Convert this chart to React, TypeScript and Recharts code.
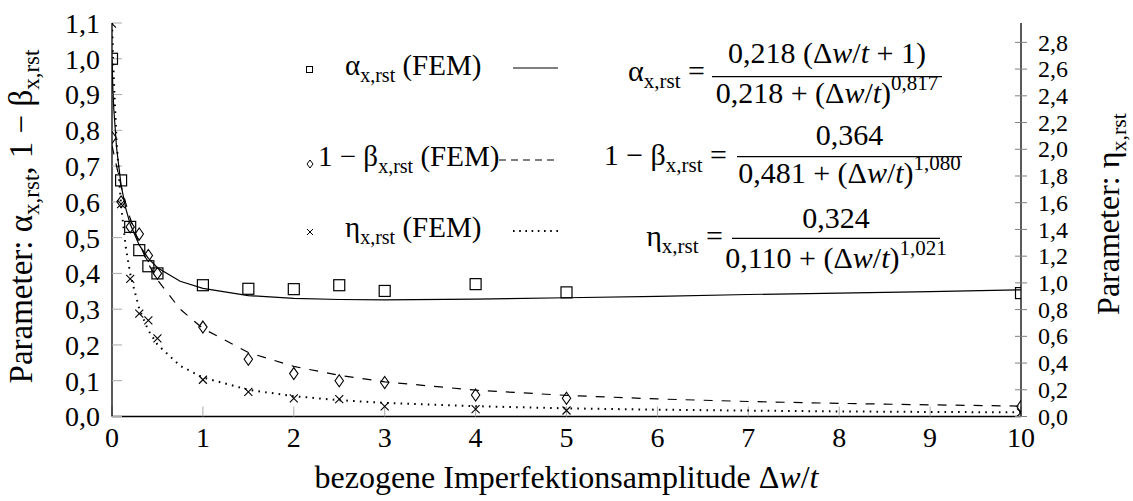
import React from 'react';
import { ComposedChart, Scatter, XAxis, YAxis, Customized } from 'recharts';

const FONT = "'Liberation Serif', 'DejaVu Serif', serif";

// axis ticks
const xTicks = [0, 1, 2, 3, 4, 5, 6, 7, 8, 9, 10];
const leftTicks = [0, 0.1, 0.2, 0.3, 0.4, 0.5, 0.6, 0.7, 0.8, 0.9, 1.0, 1.1];
const rightTicks = [0, 0.2, 0.4, 0.6, 0.8, 1.0, 1.2, 1.4, 1.6, 1.8, 2.0, 2.2, 2.4, 2.6, 2.8];

// FEM results
const femX = [0, 0.1, 0.2, 0.3, 0.4, 0.5, 1, 1.5, 2, 2.5, 3, 4, 5, 10];
const alphaFem = [1.0, 0.66, 0.53, 0.465, 0.42, 0.4, 0.367, 0.357, 0.356, 0.367, 0.351, 0.37, 0.347, 0.345];
const betaFem = [0.78, 0.6, 0.53, 0.51, 0.45, 0.4, 0.25, 0.16, 0.12, 0.1, 0.095, 0.06, 0.051, 0.028];
const etaFem = [2.94, 1.59, 1.03, 0.77, 0.72, 0.585, 0.275, 0.185, 0.135, 0.13, 0.075, 0.055, 0.045, 0.03];

// fitted curves
const curveX = [0, 0.01, 0.02, 0.05, 0.1, 0.15, 0.2, 0.3, 0.4, 0.5, 0.75, 1, 1.5, 2, 2.5, 3, 4, 5, 6, 7, 8, 9, 10];
const alphaFit = [1.0, 0.913, 0.859, 0.752, 0.647, 0.583, 0.538, 0.479, 0.442, 0.416, 0.378, 0.358, 0.338, 0.33, 0.327, 0.326, 0.328, 0.332, 0.336, 0.341, 0.345, 0.349, 0.354];
const betaFit = [0.757, 0.746, 0.734, 0.7, 0.645, 0.597, 0.554, 0.483, 0.427, 0.382, 0.3, 0.246, 0.179, 0.14, 0.115, 0.097, 0.0735, 0.059, 0.049, 0.042, 0.0367, 0.0325, 0.0291];
const etaFit = [2.945, 2.721, 2.523, 2.065, 1.578, 1.275, 1.068, 0.805, 0.645, 0.538, 0.379, 0.292, 0.2, 0.152, 0.122, 0.102, 0.077, 0.061, 0.051, 0.044, 0.038, 0.034, 0.031];

const toPts = (xs: number[], ys: number[]) => xs.map((x, i) => ({ x, y: ys[i] }));
const alphaPts = toPts(femX, alphaFem);
const betaPts = toPts(femX, betaFem);
const etaPts = toPts(femX, etaFem);
const alphaCurve = toPts(curveX, alphaFit);
const betaCurve = toPts(curveX, betaFit);
const etaCurve = toPts(curveX, etaFit);

const fmt1 = (v: number) => v.toFixed(1).replace('.', ',');

const SquareShape = (p: any) => (
  <rect x={p.cx - 5.5} y={p.cy - 5.5} width={11} height={11} fill="none" stroke="#000" strokeWidth={1.2} />
);
const DiamondShape = (p: any) => (
  <path d={`M${p.cx},${p.cy - 6}L${p.cx + 4.2},${p.cy}L${p.cx},${p.cy + 6}L${p.cx - 4.2},${p.cy}Z`} fill="none" stroke="#000" strokeWidth={1.1} />
);
const CrossShape = (p: any) => (
  <path d={`M${p.cx - 4},${p.cy - 4}L${p.cx + 4},${p.cy + 4}M${p.cx - 4},${p.cy + 4}L${p.cx + 4},${p.cy - 4}`} fill="none" stroke="#000" strokeWidth={1.1} />
);
const NoShape = () => <g />;

const RightTick = (p: any) => {
  const { x, y, payload } = p;
  const ax = x - 17;
  return (
    <g>
      <line x1={ax - 6} x2={ax + 6} y1={y} y2={y} stroke="#808080" strokeWidth={1} />
      <text x={x} y={y} dy="0.34em" textAnchor="start" fontFamily={FONT} fontSize={24} fill="#000">
        {fmt1(payload.value)}
      </text>
    </g>
  );
};

const SUB = 20;
const DwT = () => (
  <>
    Δ<tspan fontStyle="italic">w</tspan>/<tspan fontStyle="italic">t</tspan>
  </>
);

const Annotations = () => (
  <g fontFamily={FONT} fill="#000" style={{ fontFamily: FONT }}>
    {/* axis titles */}
    <text x={566.5} y={488} textAnchor="middle" fontSize={32}>
      bezogene Imperfektionsamplitude <DwT />
    </text>
    <text transform="translate(32,216.5) rotate(-90)" textAnchor="middle" fontSize={33}>
      Parameter: α<tspan dy={7} fontSize={23}>x,rst</tspan><tspan dy={-7}>, 1 − β</tspan>
      <tspan dy={7} fontSize={23}>x,rst</tspan>
    </text>
    <text transform="translate(1119,214) rotate(-90)" textAnchor="middle" fontSize={32}>
      Parameter: η<tspan dy={7} fontSize={22}>x,rst</tspan>
    </text>

    {/* legend */}
    <rect x={306.5} y={66.5} width={6} height={6} fill="none" stroke="#000" strokeWidth={1} />
    <text x={345} y={75} fontSize={29}>
      α<tspan dy={7} fontSize={SUB}>x,rst</tspan><tspan dy={-7}> (FEM)</tspan>
    </text>
    <line x1={513} x2={558} y1={68} y2={68} stroke="#000" strokeWidth={1.2} />

    <path d="M310,160L313,164L310,168L307,164Z" fill="none" stroke="#000" strokeWidth={1} />
    <text x={318} y={166} fontSize={29}>
      1 − β<tspan dy={7} fontSize={SUB}>x,rst</tspan><tspan dy={-7}> (FEM)</tspan>
    </text>
    <line x1={499} x2={558} y1={160} y2={160} stroke="#000" strokeWidth={1.2} strokeDasharray="7 5" />

    <path d="M307,229L313,235M307,235L313,229" fill="none" stroke="#000" strokeWidth={1} />
    <text x={345} y={237} fontSize={29}>
      η<tspan dy={7} fontSize={SUB}>x,rst</tspan><tspan dy={-7}> (FEM)</tspan>
    </text>
    <line x1={513} x2={558} y1={231} y2={231} stroke="#000" strokeWidth={2} strokeDasharray="1.6 4.6" />

    {/* equation 1 */}
    <text x={705} y={81} textAnchor="end" fontSize={30}>
      α<tspan dy={7} fontSize={21}>x,rst</tspan><tspan dy={-7}> =</tspan>
    </text>
    <text x={827} y={63} textAnchor="middle" fontSize={30}>
      0,218 (<DwT /> + 1)
    </text>
    <line x1={712} x2={942} y1={76.7} y2={76.7} stroke="#000" strokeWidth={1.2} />
    <text x={827} y={103} textAnchor="middle" fontSize={30}>
      0,218 + (<DwT />)<tspan dy={-13} fontSize={21}>0,817</tspan>
    </text>

    {/* equation 2 */}
    <text x={727} y={165} textAnchor="end" fontSize={30}>
      1 − β<tspan dy={7} fontSize={21}>x,rst</tspan><tspan dy={-7}> =</tspan>
    </text>
    <text x={849.5} y={145} textAnchor="middle" fontSize={30}>0,364</text>
    <line x1={737} x2={962} y1={156.7} y2={156.7} stroke="#000" strokeWidth={1.2} />
    <text x={849.5} y={183} textAnchor="middle" fontSize={30}>
      0,481 + (<DwT />)<tspan dy={-13} fontSize={21}>1,080</tspan>
    </text>

    {/* equation 3 */}
    <text x={723} y={246} textAnchor="end" fontSize={30}>
      η<tspan dy={7} fontSize={21}>x,rst</tspan><tspan dy={-7}> =</tspan>
    </text>
    <text x={836} y={228} textAnchor="middle" fontSize={30}>0,324</text>
    <line x1={732} x2={940} y1={238.3} y2={238.3} stroke="#000" strokeWidth={1.2} />
    <text x={836} y={268} textAnchor="middle" fontSize={30}>
      0,110 + (<DwT />)<tspan dy={-13} fontSize={21}>1,021</tspan>
    </text>
  </g>
);

const tickStyle = { fontFamily: FONT, fontSize: 28, fill: '#000' };

export default function App() {
  return (
    <div style={{ position: 'absolute', left: 0, top: 0, width: 1133, height: 501, background: '#fff', fontFamily: FONT }}>
      <ComposedChart width={1133} height={501} margin={{ top: 23, right: 52, bottom: 44.5, left: 52 }} style={{ fontFamily: FONT }}>
        <XAxis
          xAxisId="b"
          dataKey="x"
          type="number"
          domain={[0, 10]}
          ticks={xTicks}
          allowDataOverflow
          tickSize={-10}
          tickMargin={20.5}
          height={40}
          tick={tickStyle}
          tickLine={{ stroke: '#aaa', strokeWidth: 1 }}
          axisLine={{ stroke: '#000', strokeWidth: 1.3 }}
          interval={0}
        />
        <XAxis
          xAxisId="t"
          orientation="top"
          type="number"
          domain={[0, 10]}
          ticks={xTicks}
          allowDataOverflow
          tickSize={-10}
          height={0}
          tick={false}
          tickLine={{ stroke: '#aaa', strokeWidth: 1 }}
          axisLine={{ stroke: '#000', strokeWidth: 1.3 }}
          interval={0}
        />
        <YAxis
          yAxisId="l"
          dataKey="y"
          type="number"
          domain={[0, 1.1]}
          ticks={leftTicks}
          allowDataOverflow
          tickSize={-10}
          tickMargin={22}
          width={60}
          tick={tickStyle}
          tickFormatter={fmt1}
          tickLine={{ stroke: '#aaa', strokeWidth: 1 }}
          axisLine={{ stroke: '#000', strokeWidth: 1.3 }}
          interval={0}
        />
        <YAxis
          yAxisId="r"
          orientation="right"
          dataKey="y"
          type="number"
          domain={[0, 2.945]}
          ticks={rightTicks}
          allowDataOverflow
          tickSize={0}
          tickMargin={17}
          width={60}
          tick={<RightTick />}
          tickLine={false}
          axisLine={{ stroke: '#000', strokeWidth: 1.3 }}
          interval={0}
        />

        <Scatter xAxisId="b" yAxisId="l" data={alphaCurve} shape={NoShape} line={{ stroke: '#000', strokeWidth: 1.2 }} lineType="joint" isAnimationActive={false} />
        <Scatter xAxisId="b" yAxisId="l" data={betaCurve} shape={NoShape} line={{ stroke: '#000', strokeWidth: 1.2, strokeDasharray: '9 9' }} lineType="joint" isAnimationActive={false} />
        <Scatter xAxisId="b" yAxisId="r" data={etaCurve} shape={NoShape} line={{ stroke: '#000', strokeWidth: 2, strokeDasharray: '1.6 5.2' }} lineType="joint" isAnimationActive={false} />

        <Scatter xAxisId="b" yAxisId="l" data={alphaPts} shape={SquareShape} isAnimationActive={false} />
        <Scatter xAxisId="b" yAxisId="l" data={betaPts} shape={DiamondShape} isAnimationActive={false} />
        <Scatter xAxisId="b" yAxisId="r" data={etaPts} shape={CrossShape} isAnimationActive={false} />

        <Customized component={Annotations} />
      </ComposedChart>
    </div>
  );
}
